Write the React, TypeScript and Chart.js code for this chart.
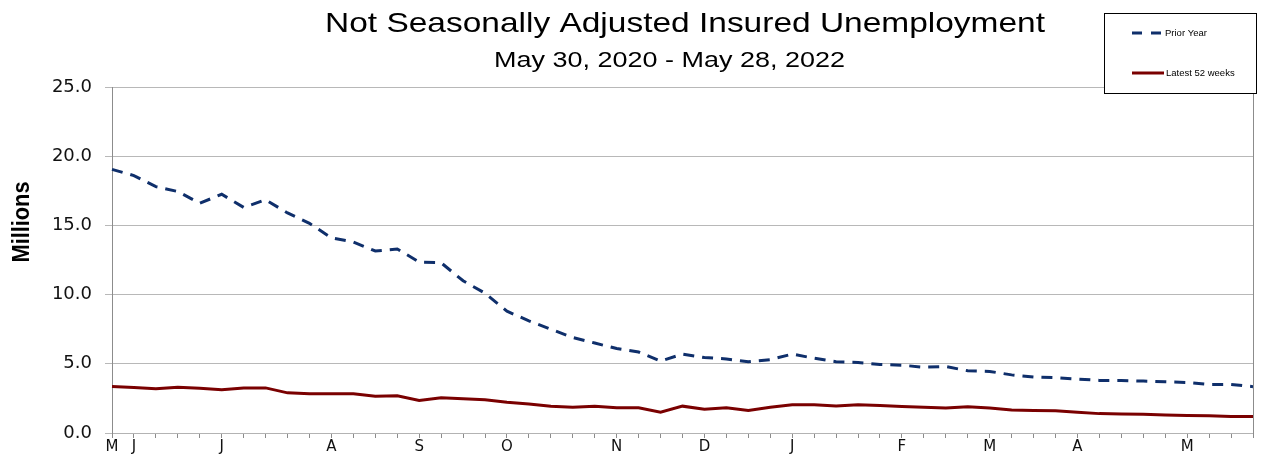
import React, { useEffect, useRef } from "react";
import { Chart, registerables } from "chart.js";

Chart.register(...registerables);

const titleText = "Not Seasonally Adjusted Insured Unemployment";
const subtitleText = "May 30, 2020 - May 28, 2022";
const yAxisTitle = "Millions";
const seriesNames = ["Prior Year", "Latest 52 weeks"];

// 53 weekly points; month initials mark the first week of each month
const weekLabels: string[] = [
  "M", "J", "", "", "", "J", "", "", "", "",
  "A", "", "", "", "S", "", "", "", "O", "",
  "", "", "", "N", "", "", "", "D", "", "",
  "", "J", "", "", "", "", "F", "", "", "",
  "M", "", "", "", "A", "", "", "", "", "M",
  "", "", "",
];

const priorYear: number[] = [
  19.05, 18.6, 17.8, 17.45, 16.6, 17.25, 16.3, 16.85, 15.9, 15.15,
  14.1, 13.8, 13.15, 13.3, 12.35, 12.3, 11.0, 10.1, 8.8, 8.1,
  7.5, 6.9, 6.5, 6.1, 5.85, 5.2, 5.7, 5.45, 5.35, 5.15,
  5.3, 5.7, 5.4, 5.15, 5.1, 4.95, 4.9, 4.75, 4.8, 4.5,
  4.45, 4.2, 4.05, 4.0, 3.9, 3.8, 3.8, 3.75, 3.7, 3.65,
  3.5, 3.5, 3.35,
];

const latest52: number[] = [
  3.36, 3.28, 3.2, 3.3, 3.24, 3.12, 3.26, 3.26, 2.9, 2.83,
  2.83, 2.83, 2.66, 2.69, 2.35, 2.54, 2.47, 2.4, 2.22, 2.1,
  1.94, 1.86, 1.94, 1.82, 1.82, 1.5, 1.94, 1.72, 1.82, 1.62,
  1.86, 2.04, 2.04, 1.96, 2.04, 1.98, 1.92, 1.86, 1.8, 1.9,
  1.8, 1.66, 1.62, 1.6, 1.5, 1.4, 1.38, 1.35, 1.3, 1.26,
  1.24, 1.19, 1.19,
];

const NAVY = "#0f2f6b";
const MAROON = "#7a0000";

function drawStretched(
  ctx: CanvasRenderingContext2D,
  text: string,
  cx: number,
  baseline: number,
  font: string,
  targetWidth: number
) {
  ctx.save();
  ctx.font = font;
  const w = ctx.measureText(text).width;
  ctx.translate(cx, baseline);
  ctx.scale(targetWidth / w, 1);
  ctx.textAlign = "center";
  ctx.textBaseline = "alphabetic";
  ctx.fillStyle = "#000";
  ctx.fillText(text, 0, 0);
  ctx.restore();
}

const decorPlugin = {
  id: "decor",
  afterDraw(chart: any) {
    const ctx: CanvasRenderingContext2D = chart.ctx;
    const area = chart.chartArea;

    // right border of plot area
    ctx.save();
    ctx.strokeStyle = "#8c8c8c";
    ctx.lineWidth = 1;
    ctx.beginPath();
    ctx.moveTo(Math.round(area.right) + 0.5, area.top);
    ctx.lineTo(Math.round(area.right) + 0.5, area.bottom + 5);
    ctx.stroke();
    ctx.restore();

    // titles
    drawStretched(ctx, titleText, 685, 32, "28px 'Liberation Sans', Arial, sans-serif", 720);
    drawStretched(ctx, subtitleText, 669.5, 67, "22px 'Liberation Sans', Arial, sans-serif", 351);

    // y axis title (rotated)
    ctx.save();
    ctx.font = "bold 21px 'Liberation Sans', Arial, sans-serif";
    const mw = ctx.measureText(yAxisTitle).width;
    ctx.translate(21, 222);
    ctx.rotate(-Math.PI / 2);
    ctx.scale(81 / mw, 1.15);
    ctx.textAlign = "center";
    ctx.textBaseline = "middle";
    ctx.fillStyle = "#000";
    ctx.fillText(yAxisTitle, 0, 1);
    ctx.restore();

    // legend box
    ctx.save();
    ctx.fillStyle = "#fff";
    ctx.fillRect(1104.5, 13.5, 152, 80);
    ctx.strokeStyle = "#000";
    ctx.lineWidth = 1;
    ctx.strokeRect(1104.5, 13.5, 152, 80);

    ctx.lineWidth = 3;
    ctx.strokeStyle = NAVY;
    ctx.setLineDash([10, 9]);
    ctx.beginPath();
    ctx.moveTo(1132, 33);
    ctx.lineTo(1164, 33);
    ctx.stroke();

    ctx.setLineDash([]);
    ctx.strokeStyle = MAROON;
    ctx.beginPath();
    ctx.moveTo(1132, 73);
    ctx.lineTo(1164, 73);
    ctx.stroke();

    ctx.fillStyle = "#000";
    ctx.font = "9.5px 'Liberation Sans', Arial, sans-serif";
    ctx.textAlign = "left";
    ctx.textBaseline = "middle";
    ctx.fillText(seriesNames[0], 1165, 33);
    ctx.fillText(seriesNames[1], 1166, 73);
    ctx.restore();
  },
};

export default function App() {
  const canvasRef = useRef<HTMLCanvasElement | null>(null);

  useEffect(() => {
    if (!canvasRef.current) return;
    const chart = new Chart(canvasRef.current, {
      type: "line",
      data: {
        labels: weekLabels,
        datasets: [
          {
            label: seriesNames[0],
            data: priorYear,
            borderColor: NAVY,
            backgroundColor: NAVY,
            borderWidth: 3,
            borderDash: [11, 8],
            pointRadius: 0,
            tension: 0,
            fill: false,
          },
          {
            label: seriesNames[1],
            data: latest52,
            borderColor: MAROON,
            backgroundColor: MAROON,
            borderWidth: 3,
            pointRadius: 0,
            tension: 0,
            fill: false,
          },
        ],
      },
      options: {
        responsive: false,
        animation: false,
        layout: { padding: { top: 87, left: 0, right: 8, bottom: 0 } },
        plugins: {
          legend: { display: false },
          title: { display: false },
          tooltip: { enabled: false },
        },
        scales: {
          x: {
            type: "category",
            offset: false,
            grid: {
              drawOnChartArea: false,
              drawTicks: true,
              tickLength: 5,
              color: "#8c8c8c",
            },
            border: { color: "#b3b3b3", width: 1 },
            ticks: {
              autoSkip: false,
              maxRotation: 0,
              minRotation: 0,
              padding: 0,
              color: "#111",
              font: { family: "'DejaVu Sans', sans-serif", size: 15 },
            },
            afterFit: (scale: any) => {
              scale.height = 24;
            },
          },
          y: {
            min: 0,
            max: 25,
            grid: {
              color: "#b8b8b8",
              lineWidth: 1,
              tickLength: 7,
              drawTicks: true,
            },
            border: { color: "#8c8c8c", width: 1 },
            ticks: {
              stepSize: 5,
              padding: 13,
              color: "#111",
              font: { family: "'DejaVu Sans', sans-serif", size: 18 },
              callback: (v: any) => Number(v).toFixed(1),
            },
            afterFit: (scale: any) => {
              scale.width = 112;
            },
          },
        },
      },
      plugins: [decorPlugin],
    });
    return () => chart.destroy();
  }, []);

  return (
    <div style={{ position: "absolute", left: 0, top: 0, width: 1261, height: 457, background: "#fff" }}>
      <canvas ref={canvasRef} width={1261} height={457} />
    </div>
  );
}
